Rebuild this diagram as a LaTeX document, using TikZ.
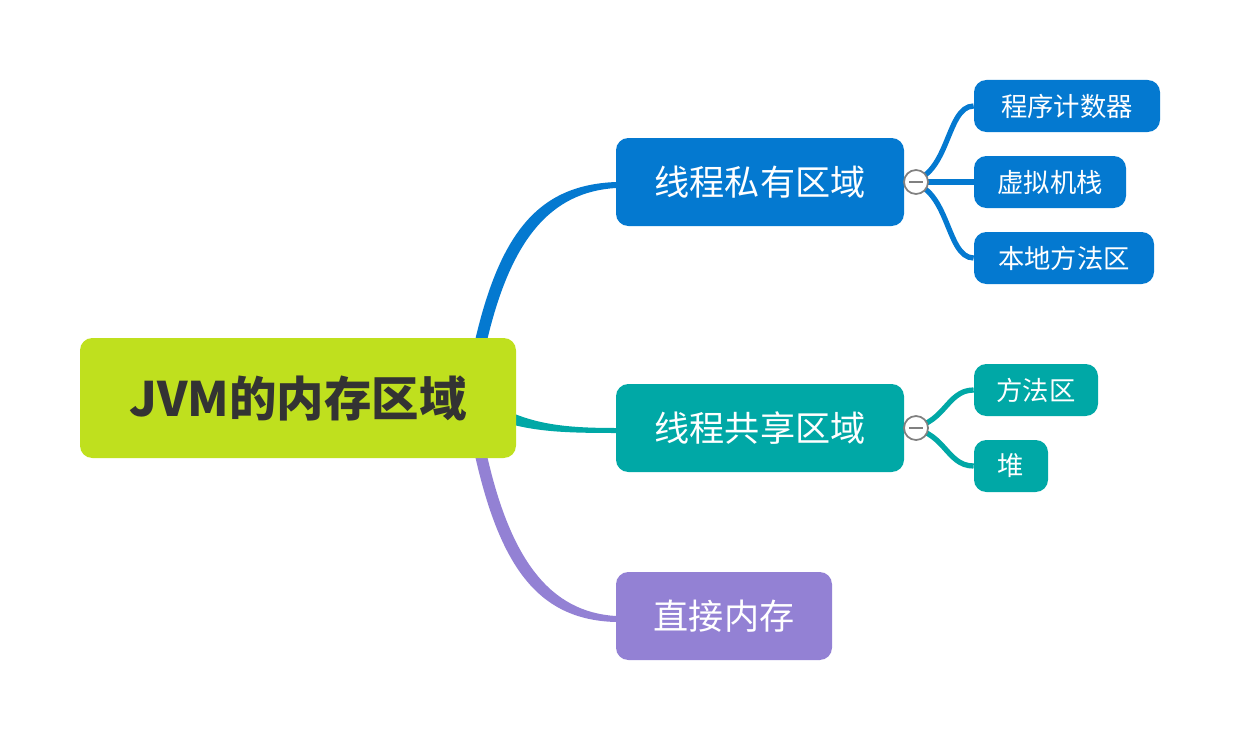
\documentclass[tikz,border=0pt]{standalone}
\usepackage{fontspec}
\setmainfont{Noto Sans CJK SC}
\usetikzlibrary{positioning}
\definecolor{rootcol}{RGB}{191,224,30}
\definecolor{privcol}{RGB}{4,121,208}
\definecolor{sharecol}{RGB}{0,168,166}
\definecolor{directcol}{RGB}{147,129,212}
\definecolor{textdark}{RGB}{51,51,51}
\tikzset{
  box/.style={rectangle, rounded corners=7pt, text=white, inner sep=0pt},
  mid/.style={box, minimum width=288*0.02cm, minimum height=88*0.02cm, font=\fontsize{20}{24}\selectfont},
  leaf/.style={box, minimum height=52*0.02cm, font=\fontsize{15}{18}\selectfont},
  fold/.style={circle, draw=gray, fill=white, line width=1pt, minimum size=24*0.02cm, inner sep=0pt},
  link/.style={line width=3pt}
}
\begin{document}
\begin{tikzpicture}[x=0.02cm, y=-0.02cm]
\useasboundingbox (0,0) rectangle (1240,740);

% branches from the root
\fill[privcol] (474,345) .. controls (500,230) and (540,185) .. (616,182)
  -- (616,188) .. controls (550,192) and (510,240) .. (486,345) -- cycle;
\fill[sharecol] (510,412) .. controls (540,425) and (570,428) .. (616,428)
  -- (616,433) .. controls (570,433) and (540,432) .. (510,424) -- cycle;
\fill[directcol] (474,451) .. controls (500,570) and (540,620) .. (616,622)
  -- (616,616) .. controls (550,612) and (510,560) .. (486,451) -- cycle;

\node[box, fill=rootcol, text=textdark, minimum width=436*0.02cm, minimum height=120*0.02cm,
  font=\fontsize{27}{32}\selectfont\bfseries] (root) at (298,398) {JVM的内存区域};

\node[mid, fill=privcol] (priv) at (760,182) {线程私有区域};
\node[mid, fill=sharecol] (share) at (760,428) {线程共享区域};
\node[mid, fill=directcol, minimum width=216*0.02cm] (direct) at (724,616) {直接内存};

% leaves
\node[leaf, fill=privcol, minimum width=186*0.02cm] (pc) at (1067,106) {程序计数器};
\node[leaf, fill=privcol, minimum width=152*0.02cm] (stack) at (1050,182) {虚拟机栈};
\node[leaf, fill=privcol, minimum width=180*0.02cm] (native) at (1064,258) {本地方法区};
\node[leaf, fill=sharecol, minimum width=124*0.02cm] (method) at (1036,390) {方法区};
\node[leaf, fill=sharecol, minimum width=74*0.02cm] (heap) at (1011,466) {堆};

\draw[link, privcol] (priv.east) .. controls (950,182) and (945,106) .. (pc.west);
\draw[link, privcol] (priv.east) -- (stack.west);
\draw[link, privcol] (priv.east) .. controls (950,182) and (945,258) .. (native.west);
\draw[link, sharecol] (share.east) .. controls (945,428) and (945,390) .. (method.west);
\draw[link, sharecol] (share.east) .. controls (945,428) and (945,466) .. (heap.west);

\node[fold] (f1) at (916,182) {};
\node[fold] (f2) at (916,428) {};
\draw[gray, line width=1pt] (f1.center) ++(-7,0) -- ++(14,0);
\draw[gray, line width=1pt] (f2.center) ++(-7,0) -- ++(14,0);
\end{tikzpicture}
\end{document}
